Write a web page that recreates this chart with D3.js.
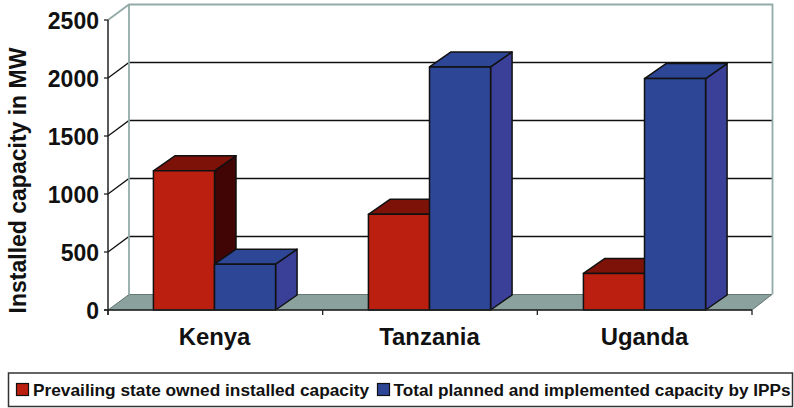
<!DOCTYPE html>
<html><head><meta charset="utf-8">
<script src="https://cdn.jsdelivr.net/npm/d3@7"></script>
<style>html,body{margin:0;padding:0;background:#fff}svg{display:block}text{font-family:"Liberation Sans",Arial,sans-serif;font-weight:bold;fill:#111}</style>
</head><body><svg id="c" width="794" height="408"></svg>
<script>
const categories = ["Kenya", "Tanzania", "Uganda"];
const stateOwned = [1200, 825, 315];
const ipps = [395, 2095, 1995];
const seriesNames = ["Prevailing state owned installed capacity", "Total planned and implemented capacity by IPPs"];
const yTicks = [0, 500, 1000, 1500, 2000, 2500];
const yTitle = "Installed capacity in MW";

const svg = d3.select("#c");
const W = {left:108, right:752, bottom:310, top:20, dx:21, dy:-15.5};
const y = d3.scaleLinear().domain([0,2500]).range([W.bottom,W.top]);
const x0 = d3.scaleBand().domain(categories).range([107,752]);
const x1 = d3.scaleBand().domain([0,1]).range([0,x0.bandwidth()]).paddingInner(0).paddingOuter(0.76);
const xEdge = d3.scaleLinear().domain([0,3]).range([W.left,W.right]);
const ink = "#111";
const wall = "#93aba8";
const colors = [
  {front:"#bb1f10", top:"#7d1208", side:"#420505"},
  {front:"#2d4696", top:"#2d4696", side:"#3a3f98"}
];
const poly = pts => pts.map(p=>p.join(",")).join(" ");

// floor
svg.append("polygon").attr("points",poly([[W.left,W.bottom],[W.left+W.dx,W.bottom+W.dy],[W.right+W.dx-1,W.bottom+W.dy],[W.right,W.bottom]]))
  .attr("fill","#8aa19e").attr("stroke","#4f5f5c").attr("stroke-width",0.8);

// gridlines with the receding segment on the side wall
const grid = svg.append("g");
yTicks.slice(1,-1).forEach(t=>{
  grid.append("polyline").attr("fill","none").attr("stroke",ink).attr("stroke-width",1.3)
    .attr("points",poly([[W.left,y(t)],[W.left+W.dx,y(t)+W.dy],[W.right+W.dx,y(t)+W.dy]]));
});
// back wall outline
svg.append("polyline").attr("fill","none").attr("stroke",wall).attr("stroke-width",1.8)
  .attr("points",poly([[W.left,y(2500)],[W.left+W.dx,y(2500)+W.dy],[W.right+W.dx-0.5,y(2500)+W.dy],[W.right+W.dx-0.5,W.bottom+W.dy]]));
svg.append("line").attr("stroke",wall).attr("stroke-width",1.8)
  .attr("x1",W.left+W.dx).attr("x2",W.left+W.dx).attr("y1",y(2500)+W.dy).attr("y2",W.bottom+W.dy);

// bars
const bars = svg.append("g").attr("stroke",ink).attr("stroke-width",1.5).attr("stroke-linejoin","round");
const dX = 21.5, dY = -15;
categories.forEach((c,i)=>{
  [stateOwned[i],ipps[i]].forEach((v,s)=>{
    const l = x0(c)+x1(s), r = l+x1.bandwidth(), t = y(v), b = y(0);
    bars.append("polygon").attr("fill",colors[s].side)
      .attr("points",poly([[r,t],[r+dX,t+dY],[r+dX,b+dY],[r,b]]));
    bars.append("polygon").attr("fill",colors[s].top)
      .attr("points",poly([[l,t],[l+dX,t+dY],[r+dX,t+dY],[r,t]]));
    bars.append("rect").attr("x",l).attr("y",t).attr("width",r-l).attr("height",b-t).attr("fill",colors[s].front);
  });
});

// axes
const axes = svg.append("g").attr("stroke","#222");
axes.append("line").attr("x1",W.left).attr("x2",W.left).attr("y1",y(2500)).attr("y2",y(0)+5).attr("stroke-width",1.5);
axes.append("line").attr("x1",W.left-4).attr("x2",W.right).attr("y1",y(0)).attr("y2",y(0)).attr("stroke-width",1.5);
yTicks.forEach(t=>axes.append("line").attr("x1",W.left-4).attr("x2",W.left).attr("y1",y(t)).attr("y2",y(t)).attr("stroke-width",1.3));
d3.range(4).forEach(i=>axes.append("line").attr("x1",xEdge(i)).attr("x2",xEdge(i)).attr("y1",y(0)).attr("y2",y(0)+5).attr("stroke-width",1.3));

svg.selectAll(".yl").data(yTicks).join("text").attr("class","yl")
  .attr("x",99).attr("y",t=>y(t)+9).attr("text-anchor","end").attr("font-size",23).text(d=>d);
svg.selectAll(".xl").data(categories).join("text").attr("class","xl")
  .attr("x",c=>x0(c)+x0.bandwidth()/2).attr("y",345).attr("text-anchor","middle").attr("font-size",23.9).text(d=>d);
svg.append("text").attr("transform","translate(26,180.5) rotate(-90)").attr("text-anchor","middle").attr("font-size",23).text(yTitle);

// legend
svg.append("rect").attr("x",8.5).attr("y",373).attr("width",784).attr("height",33.5).attr("fill","#fff").attr("stroke","#333").attr("stroke-width",1.5);
const lg = [{sw:16.5,tx:33,fs:17.3},{sw:377.5,tx:393.5,fs:17.2}];
lg.forEach((p,i)=>{
  svg.append("rect").attr("x",p.sw).attr("y",383.5).attr("width",12).attr("height",12).attr("fill",colors[i].front).attr("stroke",ink).attr("stroke-width",1.2);
  svg.append("text").attr("x",p.tx).attr("y",395.5).attr("font-size",p.fs).text(seriesNames[i]);
});
</script></body></html>
